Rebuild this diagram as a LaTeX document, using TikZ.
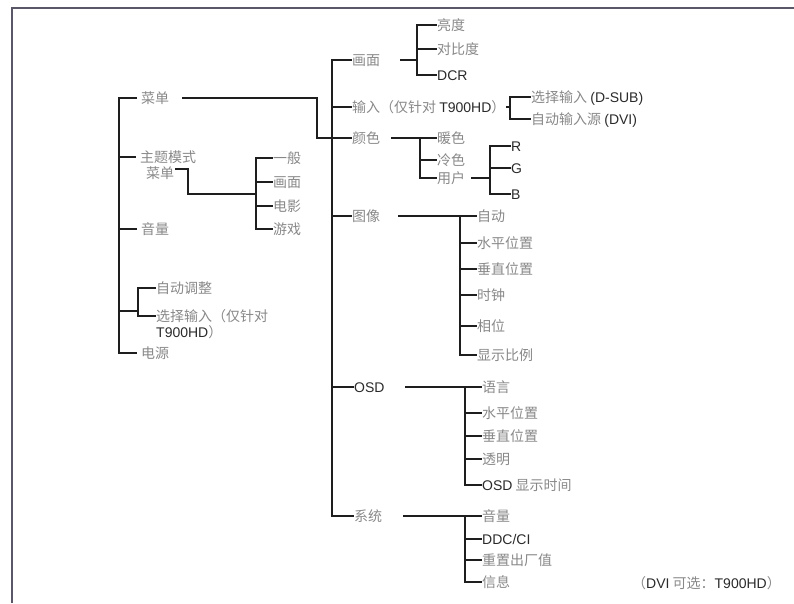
\documentclass[tikz,border=0pt]{standalone}
\usepackage{fontspec}
\setmainfont{Noto Sans CJK SC}
\newfontfamily\enfont{Liberation Sans}
\usepackage{xcolor}
\usepackage{tikz}
\usetikzlibrary{positioning}
\definecolor{cntxt}{HTML}{888888}
\definecolor{entxt}{HTML}{2A2A2A}
\definecolor{lnclr}{HTML}{1E1E1E}
\definecolor{frmclr}{HTML}{5A5868}
\newcommand{\en}[1]{{\enfont\color{entxt}#1}}
\tikzset{
  itm/.style={anchor=west, inner sep=1pt, text=cntxt, font=\fontsize{14}{15}\selectfont, text height=12pt, text depth=2pt},
  br/.style={draw=lnclr, line width=1.8pt, line cap=rect},
  frm/.style={draw=frmclr, line width=2pt}
}

\begin{document}
\begin{tikzpicture}[x=1pt, y=-1pt]
  \useasboundingbox (0,0) rectangle (794,603);

  % Frame
  \draw[frm] (12,603) -- (12,8) -- (794,8);

  % Left column
  \node[itm] (caidan) at (140,98) {菜单};
  \node[itm] (zhuti) at (139,157) {主题模式};
  \node[itm] (zhutimenu) at (145,173) {菜单};
  \node[itm] (yinliang) at (140,229) {音量};
  \node[itm] (zdtz) at (155,288) {自动调整};
  \node[itm] (xuanze) at (155,316) {选择输入（仅针对};
  \node[itm] (xuanzeb) at (155,332) {\en{T900HD}）};
  \node[itm] (dianyuan) at (140,353) {电源};

  % Theme modes
  \node[itm] (yiban) at (272,158) {一般};
  \node[itm] (huamianb) at (272,182) {画面};
  \node[itm] (dianying) at (272,206) {电影};
  \node[itm] (youxi) at (272,229) {游戏};

  % Main menu
  \node[itm] (huamian) at (351,60) {画面};
  \node[itm] (shuru) at (351,107) {输入（仅针对 \en{T900HD}）};
  \node[itm] (yanse) at (351,138) {颜色};
  \node[itm] (tuxiang) at (351,216) {图像};
  \node[itm] (osd) at (353,387) {\en{OSD}};
  \node[itm] (xitong) at (353,516) {系统};

  % Picture
  \node[itm] (liangdu) at (436,25) {亮度};
  \node[itm] (duibidu) at (436,49) {对比度};
  \node[itm] (dcr) at (436,75) {\en{DCR}};

  % Input
  \node[itm] (xzsr) at (530,97) {选择输入 \en{(D-SUB)}};
  \node[itm] (zdsr) at (530,119) {自动输入源 \en{(DVI)}};

  % Colour
  \node[itm] (nuanse) at (436,138) {暖色};
  \node[itm] (lengse) at (436,160) {冷色};
  \node[itm] (yonghu) at (436,178) {用户};
  \node[itm] (rr) at (510,146) {\en{R}};
  \node[itm] (gg) at (510,168) {\en{G}};
  \node[itm] (bb) at (510,194) {\en{B}};

  % Image
  \node[itm] (zidong) at (476,216) {自动};
  \node[itm] (spwz) at (476,243) {水平位置};
  \node[itm] (czwz) at (476,269) {垂直位置};
  \node[itm] (shizhong) at (476,295) {时钟};
  \node[itm] (xiangwei) at (476,326) {相位};
  \node[itm] (xsbl) at (476,355) {显示比例};

  % OSD
  \node[itm] (yuyan) at (481,387) {语言};
  \node[itm] (ospwz) at (481,413) {水平位置};
  \node[itm] (oczwz) at (481,436) {垂直位置};
  \node[itm] (touming) at (481,459) {透明};
  \node[itm] (osdsj) at (481,485) {\en{OSD} 显示时间};

  % System
  \node[itm] (xyinliang) at (481,516) {音量};
  \node[itm] (ddc) at (481,539) {\en{DDC/CI}};
  \node[itm] (chongzhi) at (481,560) {重置出厂值};
  \node[itm] (xinxi) at (481,582) {信息};

  % Footnote
  \node[itm] (note) at (631,583) {（\en{DVI} 可选：\en{T900HD}）};

  % Junctions
  \coordinate (lt) at (119,98);
  \coordinate (lb) at (119,353);
  \coordinate (lj) at (138,311);
  \coordinate (kink) at (317,138);
  \coordinate (zk) at (188,194);
  \coordinate (zj) at (256,194);
  \coordinate (mt) at (332,60);
  \coordinate (mb) at (332,516);
  \coordinate (hj) at (417,60);
  \coordinate (sj) at (510,107);
  \coordinate (yj) at (420,138);
  \coordinate (uj) at (490,178);
  \coordinate (tj) at (460,216);
  \coordinate (oj) at (465,387);
  \coordinate (xj) at (465,516);

  % Left tree
  \draw[br] (lt) -- (lb);
  \foreach \n in {caidan,zhuti,yinliang,dianyuan}
    \draw[br] (lt |- \n.west) -- ([xshift=-4pt]\n.west);
  \draw[br] (lt |- lj) -- (lj);
  \draw[br] (lj |- zdtz.west) -- (lj |- xuanze.west);
  \foreach \n in {zdtz,xuanze}
    \draw[br] (lj |- \n.west) -- (\n.west);

  % Theme mode submenu
  \draw[br] ([yshift=4pt]zhutimenu.east) -| (zk) -- (zj);
  \draw[br] (zj |- yiban.west) -- (zj |- youxi.west);
  \foreach \n in {yiban,huamianb,dianying,youxi}
    \draw[br] (zj |- \n.west) -- (\n.west);

  % Menu to colour
  \draw[br, shorten <=12pt] (caidan.east) -| (kink) -- (mt |- kink);

  % Main trunk
  \draw[br] (mt) -- (mb);
  \foreach \n in {huamian,shuru,yanse,tuxiang,osd,xitong}
    \draw[br] (mt |- \n.west) -- (\n.west);

  % Picture
  \draw[br, shorten <=19pt] (huamian.east) -- (hj);
  \draw[br] (hj |- liangdu.west) -- (hj |- dcr.west);
  \foreach \n in {liangdu,duibidu,dcr}
    \draw[br] (hj |- \n.west) -- (\n.west);

  % Input
  \draw[br] (shuru.east) -- (sj);
  \draw[br] (sj |- xzsr.west) -- (sj |- zdsr.west);
  \foreach \n in {xzsr,zdsr}
    \draw[br] (sj |- \n.west) -- (\n.west);

  % Colour
  \draw[br, shorten <=10pt] (yanse.east) -- (yj);
  \draw[br] (yj) -- (yj |- yonghu.west);
  \foreach \n in {nuanse,lengse,yonghu}
    \draw[br] (yj |- \n.west) -- (\n.west);
  \draw[br, shorten <=5pt] (yonghu.east) -- (uj);
  \draw[br] (uj |- rr.west) -- (uj |- bb.west);
  \foreach \n in {rr,gg,bb}
    \draw[br] (uj |- \n.west) -- (\n.west);

  % Image
  \draw[br, shorten <=17pt] (tuxiang.east) -- (tj);
  \draw[br] (tj) -- (tj |- xsbl.west);
  \foreach \n in {zidong,spwz,czwz,shizhong,xiangwei,xsbl}
    \draw[br] (tj |- \n.west) -- (\n.west);

  % OSD
  \draw[br, shorten <=20pt] (osd.east) -- (oj);
  \draw[br] (oj) -- (oj |- osdsj.west);
  \foreach \n in {yuyan,ospwz,oczwz,touming,osdsj}
    \draw[br] (oj |- \n.west) -- (\n.west);

  % System
  \draw[br, shorten <=20pt] (xitong.east) -- (xj);
  \draw[br] (xj) -- (xj |- xinxi.west);
  \foreach \n in {xyinliang,ddc,chongzhi,xinxi}
    \draw[br] (xj |- \n.west) -- (\n.west);
\end{tikzpicture}
\end{document}
